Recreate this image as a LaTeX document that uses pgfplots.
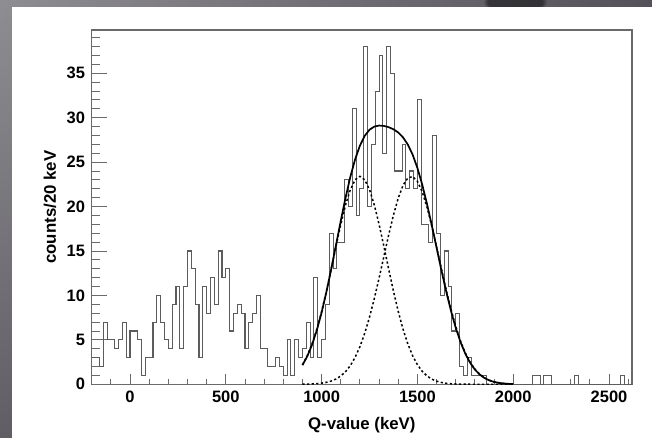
\documentclass[border=0pt]{standalone}
\usepackage{fontspec}
\setmainfont{Liberation Sans}
\usepackage{pgfplots}
\usepackage{pgfplotstable}
\pgfplotsset{compat=1.18}
\usetikzlibrary{fadings,shadings}
\definecolor{framegray}{HTML}{6A6A6A}
\definecolor{histgray}{HTML}{5C5C5C}
\definecolor{bgul}{RGB}{142,141,146}
\definecolor{bgur}{RGB}{84,81,88}
\definecolor{bgll}{RGB}{96,94,100}
\definecolor{bglr}{RGB}{70,68,74}
\newcommand\tickfont{\fontsize{16.5bp}{19bp}\selectfont\bfseries}
\newcommand\labfont{\fontsize{16.8bp}{19bp}\selectfont\bfseries}

% histogram: left bin edge, counts per 20 keV
\pgfplotstableread{
x y
-200 3
-180 3
-160 2
-140 7
-120 5
-100 5
-80 4
-60 5
-40 7
-20 3
0 6
20 6
40 5
60 1
80 3
100 3
120 7
140 10
160 7
180 5
200 4
220 9
240 11
260 4
280 11
300 15
320 13
340 9
360 3
380 11
400 8
420 12
440 9
460 15
480 12
500 13
520 6
540 8
560 9
580 8
600 4
620 7
640 8
660 10
680 4
700 4
720 2
740 2
760 3
780 2
800 1
820 5
840 1
860 5
880 3
900 4
920 7
940 3
960 12
980 3
1000 5
1020 9
1040 17
1060 13
1080 16
1100 16
1120 23
1140 20
1160 31
1180 19
1200 22
1220 38
1240 20
1260 27
1280 33
1300 37
1320 26
1340 38
1360 35
1380 24
1400 24
1420 27
1440 22
1460 24
1480 22
1500 32
1520 18
1540 18
1560 16
1580 28
1600 17
1620 10
1640 15
1660 11
1680 6
1700 8
1720 2
1740 1
1760 3
1780 1
1800 1
1820 1
1840 1
1860 0
2100 1
2140 0
2160 1
2200 0
2320 1
2340 0
2560 1
2580 0
2620 0
}\histdata

% total fit
\pgfplotstableread{
x y
900 2.152
925 3.143
950 4.447
975 6.091
1000 8.082
1025 10.393
1050 12.956
1075 15.669
1100 18.401
1125 21.008
1150 23.352
1175 25.327
1200 26.866
1225 27.959
1250 28.646
1275 29.001
1300 29.118
1325 29.076
1350 28.933
1375 28.695
1400 28.334
1425 27.787
1450 26.978
1475 25.842
1500 24.339
1525 22.475
1550 20.295
1575 17.891
1600 15.371
1625 12.855
1650 10.458
1675 8.271
1700 6.356
1725 4.746
1750 3.440
1775 2.421
1800 1.655
1825 1.099
1850 0.708
1875 0.442
1900 0.269
1925 0.158
1950 0.090
1975 0.051
2000 0.027
}\fittotal

% first component
\pgfplotstableread{
x y
900 2.203
925 3.213
950 4.535
975 6.194
1000 8.187
1025 10.472
1050 12.962
1075 15.526
1100 17.997
1125 20.187
1150 21.913
1175 23.019
1200 23.400
1225 23.019
1250 21.913
1275 20.187
1300 17.997
1325 15.526
1350 12.962
1375 10.472
1400 8.187
1425 6.194
1450 4.535
1475 3.213
1500 2.203
1525 1.462
1550 0.938
1575 0.583
1600 0.351
1625 0.204
1650 0.115
1675 0.063
1700 0.033
1750 0.008
1800 0.002
2000 0
}\fitone

% second component
\pgfplotstableread{
x y
900 0.011
925 0.021
950 0.040
975 0.072
1000 0.128
1025 0.220
1050 0.367
1075 0.594
1100 0.934
1125 1.426
1150 2.112
1175 3.038
1200 4.240
1225 5.745
1250 7.558
1275 9.649
1300 11.960
1325 14.388
1350 16.804
1375 19.050
1400 20.963
1425 22.393
1450 23.220
1475 23.373
1500 22.837
1525 21.660
1550 19.942
1575 17.823
1600 15.463
1625 13.021
1650 10.644
1675 8.446
1700 6.506
1725 4.866
1750 3.531
1775 2.487
1800 1.701
1825 1.130
1850 0.728
1875 0.455
1900 0.277
1925 0.163
1950 0.093
1975 0.052
2000 0.028
}\fittwo

\begin{document}
\begin{tikzpicture}[x=1bp,y=1bp]
\path[use as bounding box] (0,0) rectangle (652,438);
\shade[upper left=bgul, upper right=bgur, lower left=bgll, lower right=bglr] (0,0) rectangle (652,438);
\begin{scope}
\clip (0,431) rectangle (652,438);
\fill[black, opacity=0.45, path fading=circle with fuzzy edge 15 percent] (515,436) ellipse (32 and 12);
\end{scope}
\fill[white] (12,0) rectangle (652,431);
\begin{axis}[
  at={(91.7bp,53.7bp)}, anchor=south west,
  scale only axis, width=540.3bp, height=354.3bp,
  xmin=-200, xmax=2620, ymin=0, ymax=39.87,
  axis line style={framegray, line width=1.1bp},
  xtick={0,500,...,2500},
  minor xtick={-100,0,...,2600},
  ytick={0,5,...,35},
  minor ytick={0,1,...,39},
  tick align=inside,
  xtick pos=left, ytick pos=left,
  major tick length=15bp, minor tick length=8bp,
  xtick style={/pgfplots/major tick length=10bp,/pgfplots/minor tick length=5bp},
  tick style={framegray, line width=0.9bp},
  scaled x ticks=false, scaled y ticks=false,
  /pgf/number format/assume math mode=true,
  /pgf/number format/1000 sep={},
  ticklabel style={font=\tickfont, text=black},
  yticklabel style={inner sep=0pt, xshift=-6.5bp},
  xticklabel style={yshift=-3.5bp},
  xlabel={Q-value (keV)},
  ylabel={counts/20 keV},
  xlabel style={at={(axis description cs:0.5,-0.114)}, anchor=center, font=\labfont},
  ylabel style={at={(axis description cs:-0.0772,0.5)}, anchor=center, font=\labfont},
]
\addplot[const plot, histgray, line width=1.05bp] table[x=x,y=y] {\histdata};
\addplot[black, line width=1.5bp, dash pattern=on 2.2bp off 2.4bp] table[x=x,y=y] {\fitone};
\addplot[black, line width=1.5bp, dash pattern=on 2.2bp off 2.4bp] table[x=x,y=y] {\fittwo};
\addplot[black, line width=1.7bp] table[x=x,y=y] {\fittotal};
\end{axis}
\end{tikzpicture}
\end{document}
